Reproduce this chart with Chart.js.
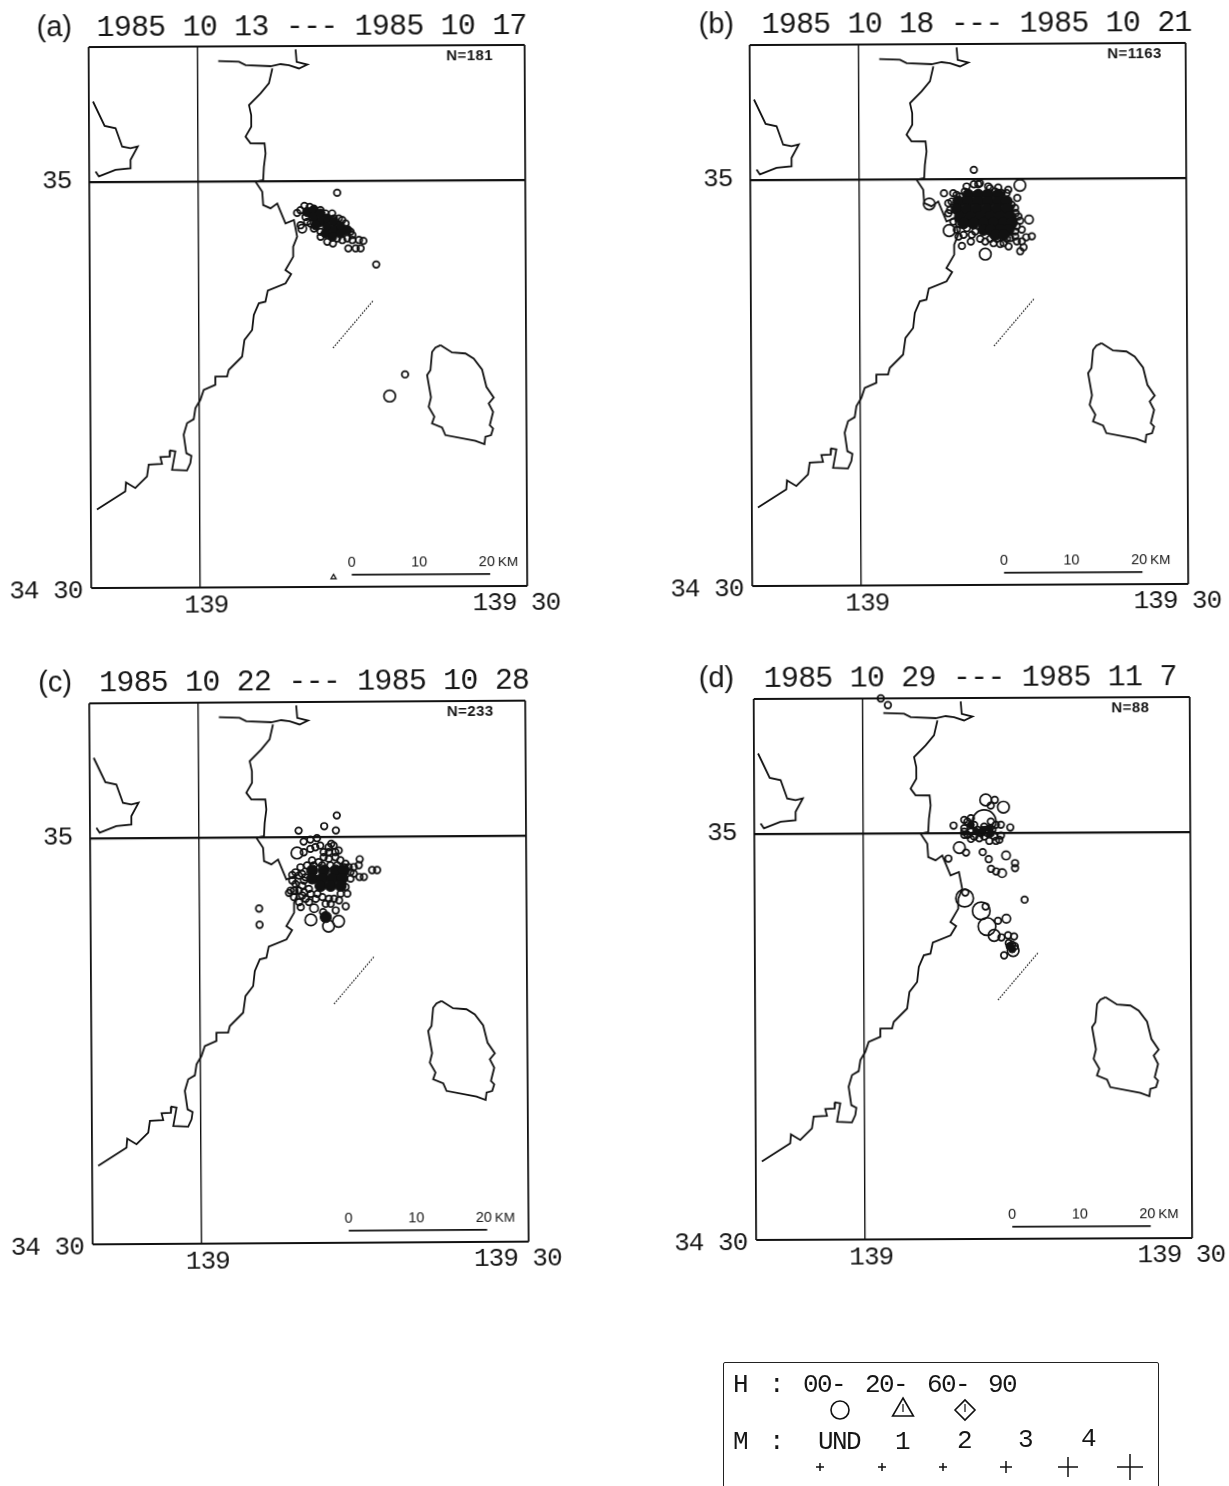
<!DOCTYPE html>
<html lang="en">
<head>
<meta charset="UTF-8">
<title>Seismicity maps 1985</title>
<style>
    html, body { margin: 0; padding: 0; background: #fff; width: 1229px; height: 1486px; overflow: hidden; }
    canvas { position: absolute; }
    #legendBox { position: absolute; left: 723px; top: 1362px; width: 434px; height: 140px; border: 1.5px solid #222; border-radius: 2px; }
    #legendBox canvas { left: 0; top: 0; }
</style>
</head>
<body>
<canvas id="panelA"></canvas>
<canvas id="panelB"></canvas>
<canvas id="panelC"></canvas>
<canvas id="panelD"></canvas>
<div id="legendBox"><canvas id="legendChart"></canvas></div>

<script src="https://cdn.jsdelivr.net/npm/chart.js"></script>
<script>
// all map values: minutes east of 139E, minutes north/south of 35N
const mainCoastLon = [6.84,6.52,5.75,4.68,4.88,4.88,4.35,4.81,6.09,6.18,6.02,5.95,5.25,5.86,5.94,6.61,7.23,7.98,8.75,9.04,8.67,8.67,7.95,8.47,7.95,6.32,6.10,5.49,5.03,4.87,4.16,3.94,2.71,2.55,1.48,1.47,0.40,0.09,-0.37,-0.53,-1.14,-1.46,-1.22,-0.76,-0.86,-1.17,-2.54,-2.23,-2.69,-2.75,-3.61,-3.46,-4.68,-4.84,-5.92,-6.77,-6.84,-9.45];
const mainCoastLat = [8.35,7.25,6.51,5.65,4.91,4.05,3.32,2.82,2.81,2.07,1.09,0.11,-0.01,-0.76,-1.74,-1.99,-1.63,-3.11,-2.86,-4.10,-4.84,-5.57,-6.56,-6.85,-7.54,-8.07,-8.89,-9.01,-9.87,-10.98,-11.71,-12.94,-13.92,-14.41,-14.41,-15.02,-15.39,-16.12,-16.74,-17.55,-17.84,-18.70,-20.06,-20.26,-20.80,-21.34,-21.28,-19.93,-19.85,-20.30,-20.34,-20.84,-20.90,-21.76,-22.62,-22.20,-22.86,-24.20];
const bayCoastLon = [1.88,3.78,4.39,6.68,7.60,8.37,9.28,10.05,9.07,8.98];
const bayCoastLat = [8.92,8.86,8.61,8.52,8.67,8.59,8.34,8.63,8.83,9.75];
const peninsulaLon = [-9.63,-8.57,-7.57,-6.97,-6.21,-5.54,-6.21,-6.21,-7.59,-9.12,-9.42];
const peninsulaLat = [5.97,4.17,3.99,2.63,2.50,2.63,1.64,1.03,0.91,0.43,0.80];
const islandLon = [22.14,23.20,24.43,25.19,25.95,26.34,27.00,26.54,26.94,26.63,26.93,26.74,26.22,26.13,25.30,22.55,22.25,21.33,21.55,21.03,21.25,20.90,21.21,21.37,21.68,22.14];
const islandLat = [-12.17,-12.71,-12.79,-13.17,-13.99,-15.27,-16.06,-16.50,-17.12,-18.10,-18.35,-18.84,-18.96,-19.50,-19.25,-18.82,-18.25,-17.95,-17.46,-16.72,-16.03,-14.38,-14.01,-12.66,-12.34,-12.17];
const faultLon = [15.95,12.26];
const faultLat = [-8.88,-12.36];

const xTickValues = [-10,0,30];
const yTickValues = [-30,0,10];
const xTickLabels = ['139','139 30'];
const yTickLabels = ['35','34 30'];

// (a)
const aLon = [12.73,16.28,18.88,17.46,9.36,10.21,9.72,9.05,9.51,9.36,12.26,12.87,13.49,11.80,12.32,11.19,13.73,14.40,14.86,15.11,14.71,13.64,13.94,13.18,10.58,11.19,11.65,13.18,12.42,10.58,10.28,9.97,9.82,11.19,12.72,14.10,14.10];
const aLat = [-0.86,-6.18,-14.32,-15.91,-2.14,-1.90,-1.82,-2.34,-3.50,-3.25,-2.39,-2.76,-3.13,-4.48,-4.61,-4.11,-4.98,-4.98,-4.98,-4.43,-4.36,-4.24,-3.74,-4.36,-2.02,-2.14,-2.39,-2.88,-2.76,-3.50,-3.13,-3.00,-2.64,-3.74,-4.24,-3.99,-4.36];
const aSize = [1,1,1,3,1,1,1,1,2,1,1,1,1,1,1,1,1,1,1,1,1,1,1,1,1,1,1,1,1,1,1,1,1,1,1,1,1];
const aCoreLon = [9.97,10.58,10.58,11.19,11.19,10.73,11.80,11.80,11.65,12.42,12.42,12.26,13.03,13.03,13.64];
const aCoreLat = [-2.27,-2.14,-2.64,-2.39,-3.00,-3.25,-2.76,-3.37,-3.87,-3.00,-3.62,-4.11,-3.37,-3.87,-3.62];

// (b)
const bLon = [10.51,14.73,14.48,7.76,6.41,8.22,11.52,9.38,10.20,14.73,15.03,15.80,15.28,15.55,14.33,14.73,13.66,12.74,11.98,11.06,10.51,9.68,8.15,8.31,11.52,12.28,12.89,13.66,14.42,9.07,9.84,10.60,13.81,14.12,14.27,13.51,13.05,11.67,9.22,8.61,9.84,10.91,11.82,12.44,13.51,13.96,14.27,14.58,14.42,14.88,13.81,13.20,12.59,11.06,10.29,9.53,8.92,8.61,8.15,8.46,8.92,12.89,14.88,14.27,11.98];
const bLat = [0.69,-0.47,-1.40,-1.03,-1.82,-3.79,-5.54,-4.93,-4.61,-5.34,-5.05,-4.24,-4.31,-3.00,-2.51,-3.08,-0.79,-0.62,-0.67,-0.30,-0.37,-0.91,-1.77,-2.27,-4.61,-4.73,-4.80,-4.98,-4.61,-4.24,-3.62,-3.87,-2.14,-3.13,-3.87,-4.41,-1.03,-1.03,-1.28,-1.03,-0.54,-0.37,-0.54,-0.91,-1.03,-1.90,-2.14,-2.76,-3.50,-3.74,-4.36,-4.73,-4.41,-4.41,-4.11,-4.11,-3.74,-3.13,-2.51,-1.65,-1.16,-1.16,-4.61,-4.24,-4.41];
const bSize = [1,3,1,1,3,3,3,1,1,1,1,1,1,2,1,1,1,1,1,1,1,1,1,1,1,1,1,1,1,1,1,1,1,1,1,1,1,1,1,1,1,1,1,1,1,1,1,1,1,1,1,1,1,1,1,1,1,1,1,1,1,1,1,1,1];
const bCoreLon = [9.99,10.91,11.82,12.74, 9.07,9.99,10.91,11.82,12.74,13.51, 8.92,9.84,10.75,11.67,12.59,13.51, 9.22,10.14,11.06,11.98,12.89,13.81, 9.53,10.45,11.37,12.28,13.20,13.96, 11.37,11.98,12.89,13.66, 12.44,13.20];
const bCoreLat = [-1.16,-1.16,-1.16,-1.16, -1.65,-1.65,-1.65,-1.65,-1.65,-1.65, -2.19,-2.19,-2.19,-2.19,-2.19,-2.19, -2.76,-2.76,-2.76,-2.76,-2.76,-2.76, -3.25,-3.25,-3.25,-3.25,-3.25,-3.25, -3.74,-3.74,-3.74,-3.74, -4.11,-4.11];

// (c)
const cLon = [12.64,11.48,12.55,9.13,10.81,10.20,9.59,8.97,9.59,12.12,12.80,11.88,11.42,14.72,14.63,13.41,16.31,15.85,15.09,14.69,13.87,8.52,8.52,9.28,9.43,9.59,9.13,8.21,8.67,9.74,9.13,9.28,10.50,10.81,11.88,12.03,12.80,13.41,12.49,5.46,5.49,10.20,12.74,11.82,11.33,13.41,
    10.20,10.66,11.11,11.88,12.34,12.49,11.42,11.88,12.49,12.95,10.35,10.96,9.89,10.50,11.27,12.03,12.64,13.26,13.71,14.17,8.82,9.13,9.74,8.82,9.43,10.04,8.36,8.67,9.59,10.20,10.66,11.27,10.04,9.43,11.57,12.34,12.95,13.56,13.87,14.17];
const cLat = [1.60,0.81,0.49,0.49,-0.07,-0.17,-0.32,-1.16,-1.11,-0.49,-0.99,-1.11,-1.11,-1.65,-2.09,-1.97,-2.46,-2.46,-2.96,-2.96,-2.59,-2.78,-3.20,-2.22,-2.71,-3.20,-3.94,-4.11,-4.43,-4.56,-4.80,-5.17,-5.25,-4.19,-4.56,-4.93,-4.68,-5.12,-5.42,-5.25,-6.45,-6.11,-6.23,-6.58,-5.54,-3.69,
    -0.86,-0.74,-0.62,-0.74,-0.62,-1.11,-1.48,-1.60,-1.48,-1.72,-1.72,-1.85,-2.09,-2.09,-2.09,-2.09,-2.09,-2.22,-2.22,-2.22,-2.59,-2.83,-2.96,-3.45,-3.57,-3.82,-3.94,-3.94,-4.06,-4.19,-4.56,-4.43,-4.80,-4.31,-4.93,-4.56,-4.19,-4.19,-3.08,-2.71];
const cSize = [1,1,1,1,1,1,1,3,1,1,1,1,1,1,1,1,1,1,1,1,1,1,1,1,1,1,1,1,1,1,1,1,2,1,1,1,1,1,1,1,1,3,3,3,1,1];
const cCoreLon = [10.35,11.42,12.49,13.26, 10.35,11.27,12.19,13.10, 11.11,12.03,12.95, 11.57];
const cCoreLat = [-2.46,-2.46,-2.46,-2.46, -3.05,-3.05,-3.05,-3.05, -3.60,-3.60,-3.60, -5.91];

// (d)
const dLon = [11.09,12.86,11.24,12.07,11.70,8.28,9.26,13.48,12.62,8.80,9.41,10.94,11.49,7.79,13.08,13.90,13.90,11.70,12.16,12.71,14.76,9.26,9.32,10.78,11.18,11.30,13.08,12.31,11.95,12.62,13.23,13.78,13.69,12.86,13.29,13.60,13.38,13.84,9.26,9.87,10.63,11.55,12.47,9.26,10.17,11.09,11.70,11.85,9.87,10.48,10.94,11.40,12.01,9.56,1.65,2.30,9.56,10.17,11.09,12.16,12.62,12.16,9.87,9.26,10.78,11.24];
const dLat = [0.86,1.92,2.46,2.46,2.04,0.57,0.99,0.42,0.62,-1.06,-1.43,-1.40,-1.92,-1.87,-1.65,-2.22,-2.59,-2.64,-2.83,-2.96,-4.93,-4.80,-4.38,-5.74,-5.42,-6.90,-6.33,-6.48,-7.56,-7.71,-7.56,-7.64,-8.69,-9.04,-8.13,-8.25,-8.37,-8.37,-0.12,-0.42,-0.37,-0.57,-0.49,0.37,0.62,0.49,0.86,0.25,0.12,0.25,0.12,0,-0.25,0.86,10.0,9.5,-0.12,-0.25,-0.25,-0.57,-0.17,0.62,1.11,0.12,0,0.25];
const dSize = [5,3,3,1,1,1,1,1,1,3,1,1,1,1,2,1,1,1,1,2,1,4,1,4,1,4,2,1,3,1,1,1,3,1,1,1,1,1,1,1,1,1,1,1,1,1,1,1,1,1,1,1,1,1,1,1];
const dCoreLon = [9.87,10.33,10.94,11.55,11.70,13.38,13.60];
const dCoreLat = [0.62,0.12,0.25,0.37,0,-8.37,-8.60];

const sizeRadius = {1: 3.3, 2: 4.2, 3: 5.8, 4: 8.8, 5: 11.8};
const pad = {left: 85, right: 60, top: 40, bottom: 40};
const plotW = 436, plotH = 541;

const panels = [
    {id: 'panelA', tag: '(a)', dates: '1985 10 13 --- 1985 10 17', n: 'N=181',  lon: aLon, lat: aLat, size: aSize, coreLon: aCoreLon, coreLat: aCoreLat, coreR: 4.6, left: 90,  top: 46,    rot: -0.28, barFrom: 13.9, tagDx: -52, titleDx: 8,  titleDy: -19, triLon: [12.23], triLat: [-29.29]},
    {id: 'panelB', tag: '(b)', dates: '1985 10 18 --- 1985 10 21', n: 'N=1163', lon: bLon, lat: bLat, size: bSize, coreLon: bCoreLon, coreLat: bCoreLat, coreR: 5.6, left: 751, top: 44,    rot: -0.28, barFrom: 13.1, tagDx: -51, titleDx: 12, titleDy: -20, triLon: [], triLat: []},
    {id: 'panelC', tag: '(c)', dates: '1985 10 22 --- 1985 10 28', n: 'N=233',  lon: cLon, lat: cLat, size: cSize, coreLon: cCoreLon, coreLat: cCoreLat, coreR: 5.6, left: 91,  top: 701.5, rot: -0.36, barFrom: 13.5, tagDx: -51, titleDx: 10, titleDy: -20, triLon: [], triLat: []},
    {id: 'panelD', tag: '(d)', dates: '1985 10 29 --- 1985 11 7',  n: 'N=88',   lon: dLon, lat: dLat, size: dSize, coreLon: dCoreLon, coreLat: dCoreLat, coreR: 3.5, left: 755, top: 698,   rot: -0.26, barFrom: 13.5, tagDx: -55, titleDx: 10, titleDy: -20, triLon: [], triLat: []}
];

function toPoints(lons, lats) {
    return lons.map((v, i) => ({x: v, y: lats[i]}));
}

function lineSet(lons, lats, width, dash) {
    return {
        data: toPoints(lons, lats), showLine: true, pointRadius: 0,
        borderColor: '#111', borderWidth: width, borderDash: dash || [], tension: 0
    };
}

const mapText = {
    id: 'mapText',
    afterDraw(chart) {
        const p = chart.options.plugins.mapText.panel;
        const ctx = chart.ctx, a = chart.chartArea, xs = chart.scales.x, ys = chart.scales.y;
        ctx.save();
        ctx.fillStyle = '#161616';
        ctx.textBaseline = 'middle';

        ctx.font = '29px "Liberation Sans"';
        ctx.textAlign = 'left';
        ctx.fillText(p.tag, a.left + p.tagDx, a.top + p.titleDy);

        ctx.font = '30px "Liberation Mono"';
        ctx.letterSpacing = '-0.8px';
        ctx.fillText(p.dates, a.left + p.titleDx, a.top + p.titleDy);

        // tick labels sit off their ticks in the original
        ctx.font = '26px "Liberation Mono"';
        ctx.letterSpacing = '-1px';
        ctx.textAlign = 'center';
        ctx.fillText(xTickLabels[0], xs.getPixelForValue(0) + 6, a.bottom + 18);
        ctx.fillText(xTickLabels[1], xs.getPixelForValue(30) - 11, a.bottom + 17);
        ctx.textAlign = 'right';
        ctx.fillText(yTickLabels[0], a.left - 18, ys.getPixelForValue(0) - 1);
        ctx.fillText(yTickLabels[1], a.left - 9, ys.getPixelForValue(-30) + 3);

        ctx.font = 'bold 15px "Liberation Sans"';
        ctx.letterSpacing = '0.4px';
        ctx.textAlign = 'left';
        ctx.fillText(p.n, a.left + 357.5, a.top + 11);

        // scale bar labels
        const y0 = ys.getPixelForValue(-29.1) - 12;
        ctx.letterSpacing = '0px';
        ctx.font = '14.5px "Liberation Sans"';
        ctx.textAlign = 'center';
        ctx.fillText('0', xs.getPixelForValue(p.barFrom), y0);
        ctx.fillText('10', xs.getPixelForValue(p.barFrom + 6.2), y0);
        ctx.fillText('20', xs.getPixelForValue(p.barFrom + 12.4), y0);
        ctx.font = '13.5px "Liberation Sans"';
        ctx.textAlign = 'left';
        ctx.fillText('KM', xs.getPixelForValue(p.barFrom + 12.4) + 11, y0);
        ctx.restore();
    }
};

panels.forEach(p => {
    const canvas = document.getElementById(p.id);
    const w = pad.left + plotW + pad.right, h = pad.top + plotH + pad.bottom;
    canvas.width = w;
    canvas.height = h;
    canvas.style.width = w + 'px';
    canvas.style.height = h + 'px';
    canvas.style.left = (p.left - pad.left) + 'px';
    canvas.style.top = (p.top - pad.top) + 'px';
    canvas.style.transformOrigin = (pad.left + plotW / 2) + 'px ' + (pad.top + plotH / 2) + 'px';
    canvas.style.transform = 'rotate(' + p.rot + 'deg)';

    new Chart(canvas, {
        type: 'scatter',
        data: {
            datasets: [
                lineSet(mainCoastLon, mainCoastLat, 1.8),
                lineSet(bayCoastLon, bayCoastLat, 1.8),
                lineSet(peninsulaLon, peninsulaLat, 1.8),
                lineSet(islandLon, islandLat, 1.8),
                lineSet(faultLon, faultLat, 1.2, [1.5, 1.5]),
                lineSet([p.barFrom, p.barFrom + 12.7], [-29.1, -29.1], 1.7),
                {
                    data: toPoints(p.coreLon, p.coreLat), pointRadius: p.coreR,
                    backgroundColor: '#111', borderColor: '#111', borderWidth: 1
                },
                {
                    data: toPoints(p.lon, p.lat), clip: false,
                    pointRadius: p.lon.map((v, i) => sizeRadius[p.size[i] || 1]),
                    backgroundColor: 'rgba(0,0,0,0)', borderColor: '#111', borderWidth: 1.7
                },
                {
                    data: toPoints(p.triLon, p.triLat), pointStyle: 'triangle', pointRadius: 3,
                    backgroundColor: 'rgba(0,0,0,0)', borderColor: '#111', borderWidth: 1.2
                }
            ]
        },
        options: {
            responsive: false,
            animation: false,
            layout: {padding: pad, autoPadding: false},
            plugins: {legend: {display: false}, tooltip: {enabled: false}, mapText: {panel: p}},
            scales: {
                x: {
                    type: 'linear', min: -10, max: 30,
                    afterBuildTicks: s => { s.ticks = xTickValues.map(v => ({value: v})); },
                    ticks: {display: false},
                    border: {display: false},
                    grid: {drawTicks: false, color: '#111', lineWidth: c => c.tick && c.tick.value === 0 ? 1.4 : 1.8}
                },
                y: {
                    type: 'linear', min: -30, max: 10,
                    afterBuildTicks: s => { s.ticks = yTickValues.map(v => ({value: v})); },
                    ticks: {display: false},
                    border: {display: false},
                    grid: {drawTicks: false, color: '#111', lineWidth: c => c.tick && c.tick.value === 0 ? 2.2 : 2}
                }
            }
        },
        plugins: [mapText]
    });
});

// key box
const depthLabels = ['00-', '20-', '60-', '90'];
const magLabels = ['UND', '1', '2', '3', '4'];
const depthStyles = ['circle', 'triangle', 'rectRot'];
const magCrossSizes = [4, 4, 4, 6, 10, 13];

const legendX = [116, 179, 241];
const legendTickX = [179, 241];
const magX = [96, 158, 219, 282, 344, 406];

const legendText = {
    id: 'legendText',
    afterDraw(chart) {
        const ctx = chart.ctx;
        ctx.save();
        ctx.fillStyle = '#161616';
        ctx.textBaseline = 'middle';
        ctx.font = '26px "Liberation Mono"';
        ctx.letterSpacing = '-1.6px';
        ctx.textAlign = 'left';
        ctx.fillText('H', 9, 22);
        ctx.fillText(':', 45, 22);
        [79, 141, 203, 264].forEach((x, i) => ctx.fillText(depthLabels[i], x, 22));
        ctx.fillText('M', 9, 79);
        ctx.fillText(':', 45, 79);
        ctx.textAlign = 'center';
        [115, 178, 240, 301, 364].forEach((x, i) => ctx.fillText(magLabels[i], x, 79 - (i > 1 ? i - 1 : 0)));
        ctx.restore();
    }
};

const legendCanvas = document.getElementById('legendChart');
legendCanvas.width = 434;
legendCanvas.height = 124;
legendCanvas.style.width = '434px';
legendCanvas.style.height = '124px';
new Chart(legendCanvas, {
    type: 'scatter',
    data: {
        datasets: [
            {
                data: legendX.map(x => ({x: x, y: 47})),
                pointStyle: depthStyles,
                pointRadius: [9, 12, 10],
                backgroundColor: 'rgba(0,0,0,0)', borderColor: '#111', borderWidth: 1.6
            },
            {
                data: legendTickX.map(x => ({x: x, y: 45})),
                pointStyle: 'line', rotation: 90, pointRadius: 4,
                borderColor: '#111', borderWidth: 1.2
            },
            {
                data: magX.map(x => ({x: x, y: 104})),
                pointStyle: 'cross',
                pointRadius: magCrossSizes,
                borderColor: '#111', borderWidth: 1.5
            }
        ]
    },
    options: {
        responsive: false,
        animation: false,
        layout: {padding: 0, autoPadding: false},
        plugins: {legend: {display: false}, tooltip: {enabled: false}},
        scales: {
            x: {type: 'linear', min: 0, max: 434, display: false},
            y: {type: 'linear', min: 0, max: 124, reverse: true, display: false}
        }
    },
    plugins: [legendText]
});
</script>
</body>
</html>
